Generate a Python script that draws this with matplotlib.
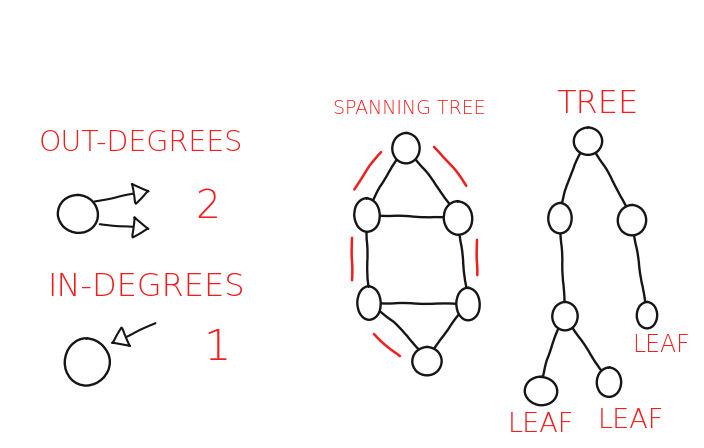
import matplotlib
matplotlib.use("Agg")
import matplotlib.pyplot as plt
from matplotlib.patches import Ellipse, FancyArrowPatch

RED = "#f01e1e"
INK = "#151515"
HAND = ["DejaVu Sans"]

# nodes of the spanning-tree graph: (x, y, w, h) in pixels of the sketch
span_nodes = [(406, 148, 28, 30), (367, 215, 26, 33), (458, 218, 29, 33),
              (369, 303, 24, 33), (468, 304, 24, 32), (427, 361, 30, 28)]
span_edges = [(0, 1), (0, 2), (1, 2), (1, 3), (2, 4), (3, 4), (3, 5), (4, 5)]
span_bend = [0.08, -0.05, 0.0, 0.02, 0.0, 0.0, -0.1, 0.05]

# red strokes marking the tree edges
red_marks = [((383, 150), (353, 192), 0.06), ((432, 145), (468, 188), -0.06),
             ((352, 235), (352, 283), 0.0), ((477, 237), (477, 278), 0.0),
             ((372, 332), (402, 358), 0.05)]

# rooted tree
tree_nodes = [(588, 141, 29, 27), (560, 218, 24, 30), (632, 220, 29, 30),
              (565, 316, 26, 28), (647, 315, 21, 26), (541, 391, 33, 28),
              (609, 382, 25, 29)]
tree_edges = [(0, 1), (0, 2), (1, 3), (2, 4), (3, 5), (3, 6)]
tree_bend = [0.12, -0.05, 0.0, 0.0, 0.1, 0.0]

# degree examples
out_node = (78, 214, 40, 38)
out_arrows = [((92, 202), (153, 190)), ((97, 224), (153, 229))]
in_node = (87, 362, 45, 47)
in_arrows = [((158, 322), (108, 345))]

labels = [("OUT-DEGREES", 141, 143, 20.5), ("2", 208, 207, 28),
          ("IN-DEGREES", 146, 287, 23), ("1", 217, 347, 31),
          ("SPANNING TREE", 409, 108, 13.7), ("TREE", 597, 104, 23),
          ("LEAF", 661, 345, 17), ("LEAF", 541, 425, 19.5), ("LEAF", 631, 421, 19.5)]

fig = plt.figure(figsize=(7.04, 4.48), dpi=100)
ax = fig.add_axes([0, 0, 1, 1])
ax.set_xlim(0, 704)
ax.set_ylim(448, 0)
ax.axis("off")


def sketch(artist):
    artist.set_sketch_params(scale=0.35, length=60, randomness=4)
    return artist


def draw_graph(nodes, edges, bends):
    for (a, b), rad in zip(edges, bends):
        p = FancyArrowPatch(nodes[a][:2], nodes[b][:2], arrowstyle="-",
                            connectionstyle=f"arc3,rad={rad}",
                            color=INK, lw=1.7, zorder=1)
        ax.add_patch(sketch(p))
    for x, y, w, h in nodes:
        e = Ellipse((x, y), w, h, fc="white", ec=INK, lw=1.7, zorder=2)
        ax.add_patch(sketch(e))


draw_graph(span_nodes, span_edges, span_bend)
draw_graph(tree_nodes, tree_edges, tree_bend)

for p0, p1, rad in red_marks:
    p = FancyArrowPatch(p0, p1, arrowstyle="-", connectionstyle=f"arc3,rad={rad}",
                        color=RED, lw=1.8, zorder=1)
    ax.add_patch(sketch(p))

for node, arrows in [(out_node, out_arrows), (in_node, in_arrows)]:
    x, y, w, h = node
    for p0, p1 in arrows:
        a = FancyArrowPatch(p0, p1, arrowstyle="-|>,head_length=0.45,head_width=0.3",
                            mutation_scale=24, fc="white", ec=INK, lw=1.5, zorder=1)
        ax.add_patch(sketch(a))
    e = Ellipse((x, y), w, h, fc="white", ec=INK, lw=1.7, zorder=2)
    ax.add_patch(sketch(e))

for txt, x, y, size in labels:
    ax.text(x, y, txt, color=RED, fontsize=size, family=HAND,
            ha="center", va="center", fontweight="light")

fig.savefig("out.png", dpi=100)
